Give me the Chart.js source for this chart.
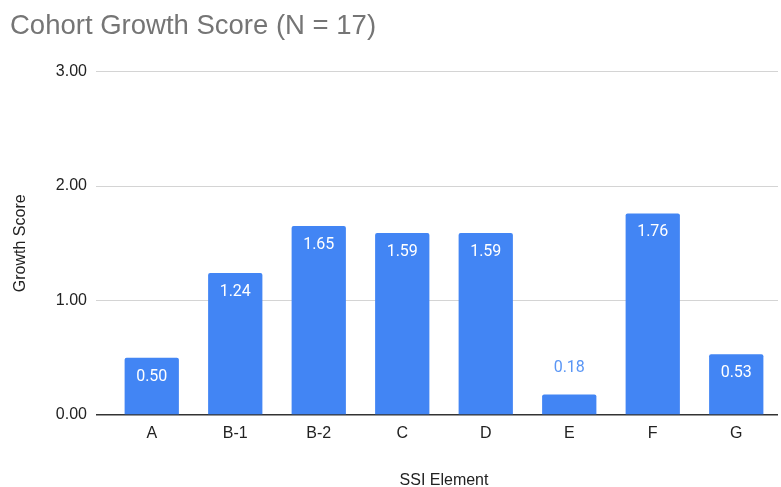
<!DOCTYPE html>
<html>
<head>
<meta charset="utf-8">
<script src="https://cdn.jsdelivr.net/npm/chart.js@4"></script>
<style>
  html, body { margin: 0; padding: 0; background: #fff; }
  #wrap { width: 781px; height: 487px; }
</style>
</head>
<body>
<div id="wrap"><canvas id="growthChart" width="781" height="487"></canvas></div>
<script>
// chart data
const elements = ['A', 'B-1', 'B-2', 'C', 'D', 'E', 'F', 'G'];
const growthScores = [0.50, 1.24, 1.65, 1.59, 1.59, 0.18, 1.76, 0.53];
const yTicks = [0, 1, 2, 3];

const barBlue = '#4285f4';
const axisFont = { family: 'Liberation Sans, Arial, sans-serif', size: 16 };

// value labels: white inside tall bars, blue above short ones
const barLabels = {
    id: 'barLabels',
    afterDatasetsDraw(chart) {
        const ctx = chart.ctx;
        const meta = chart.getDatasetMeta(0);
        ctx.save();
        ctx.font = '16px Roboto';
        ctx.textAlign = 'center';
        ctx.textBaseline = 'middle';
        meta.data.forEach((bar, i) => {
            const text = growthScores[i].toFixed(2);
            const h = bar.base - bar.y;
            if (h > 32) {
                ctx.fillStyle = '#ffffff';
                ctx.fillText(text, bar.x, bar.y + 19);
            } else {
                ctx.fillStyle = '#5a96f5';
                ctx.fillText(text, bar.x, bar.y - 26);
            }
        });
        ctx.restore();
    }
};

new Chart(document.getElementById('growthChart'), {
    type: 'bar',
    data: {
        labels: elements,
        datasets: [{
            data: growthScores,
            backgroundColor: barBlue,
            borderRadius: 2,
            borderSkipped: 'bottom',
            categoryPercentage: 1,
            barPercentage: 0.65
        }]
    },
    options: {
        responsive: false,
        animation: false,
        layout: { padding: { left: 10, right: 3, top: 0, bottom: 0 } },
        plugins: {
            legend: { display: false },
            tooltip: { enabled: false },
            title: {
                display: true,
                text: 'Cohort Growth Score (N = 17)',
                align: 'start',
                color: '#757575',
                font: { family: 'Liberation Sans, Arial, sans-serif', size: 27.5, weight: 'normal' },
                padding: { top: 10, bottom: 28.5 }
            }
        },
        scales: {
            x: {
                grid: { display: false, drawTicks: false },
                border: { display: false },
                ticks: {
                    color: '#222222',
                    font: axisFont,
                    padding: 9
                },
                title: {
                    display: true,
                    text: 'SSI Element',
                    color: '#222222',
                    font: axisFont,
                    padding: { top: 0, bottom: -3 }
                },
                afterFit(scale) { scale.height = 72; }
            },
            y: {
                min: 0,
                max: 3,
                afterBuildTicks(scale) {
                    scale.ticks = yTicks.map(v => ({ value: v }));
                },
                grid: {
                    drawTicks: true,
                    tickLength: 14,
                    color: ctx => ctx.tick && ctx.tick.value === 0 ? '#333333' : '#d4d4d4',
                    lineWidth: ctx => ctx.tick && ctx.tick.value === 0 ? 1.5 : 1
                },
                border: { display: false },
                ticks: {
                    color: '#222222',
                    font: axisFont,
                    padding: 9,
                    callback: v => Number(v).toFixed(2)
                },
                title: {
                    display: true,
                    text: 'Growth Score',
                    color: '#222222',
                    font: axisFont,
                    padding: { top: 1, bottom: 0 }
                },
                afterFit(scale) { scale.width = 100; }
            }
        }
    },
    plugins: [barLabels]
});
</script>
</body>
</html>
